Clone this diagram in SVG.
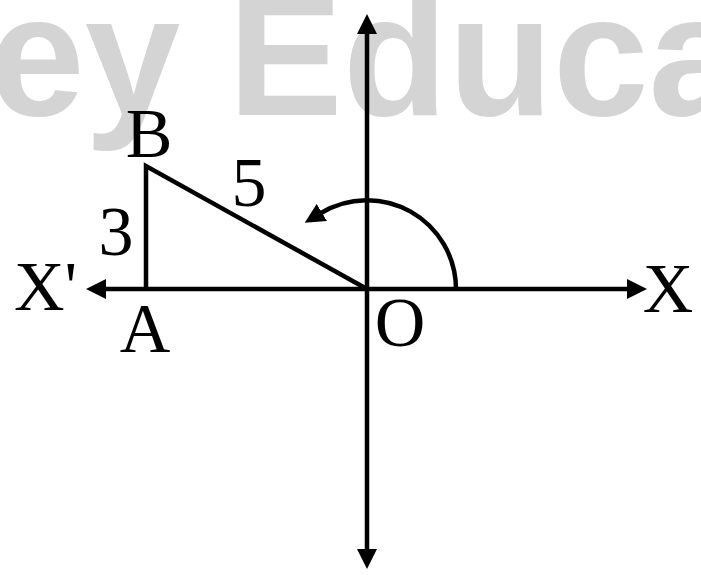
<svg xmlns="http://www.w3.org/2000/svg" width="701" height="575" viewBox="0 0 701 575">
  <style>
    .wm { font-family: "Liberation Sans", Arial, sans-serif; font-weight: bold; font-size: 172px; fill: #d4d4d4; }
    .lbl { font-family: "Liberation Serif", "Times New Roman", serif; font-size: 70px; fill: #000; }
    .ln { fill: none; stroke: #000; stroke-width: 4.5; }
  </style>
  <defs>
    <marker id="ah" viewBox="0 0 20 20" markerUnits="userSpaceOnUse" markerWidth="20" markerHeight="20" refX="1" refY="10" orient="auto-start-reverse">
      <path d="M0,0 L20,10 L0,20 z" fill="#000"/>
    </marker>
  </defs>
  <rect width="701" height="575" fill="#fff"/>
  <text class="wm" x="-11" y="115">ey Educa</text>

  <g id="connectors">
    <line class="ln" x1="105" y1="289" x2="628" y2="289" marker-start="url(#ah)" marker-end="url(#ah)"/>
    <line class="ln" x1="367" y1="550" x2="367" y2="33" marker-start="url(#ah)" marker-end="url(#ah)"/>
    <path class="ln" d="M146,289 L146,166 L367,289" stroke-linejoin="miter"/>
    <path class="ln" d="M456,289 A89,89 0 0 0 321,213" marker-end="url(#ah)"/>
  </g>

  <g id="node-B"><text class="lbl" x="149" y="157" text-anchor="middle">B</text></g>
  <g id="label-3"><text class="lbl" x="116" y="255" text-anchor="middle">3</text></g>
  <g id="label-5"><text class="lbl" x="249" y="206" text-anchor="middle">5</text></g>
  <g id="node-Xp"><text class="lbl" x="14" y="310">X'</text></g>
  <g id="node-A"><text class="lbl" x="145" y="352" text-anchor="middle">A</text></g>
  <g id="node-O"><text class="lbl" x="400" y="346" text-anchor="middle">O</text></g>
  <g id="node-X"><text class="lbl" x="668" y="312" text-anchor="middle">X</text></g>
</svg>
